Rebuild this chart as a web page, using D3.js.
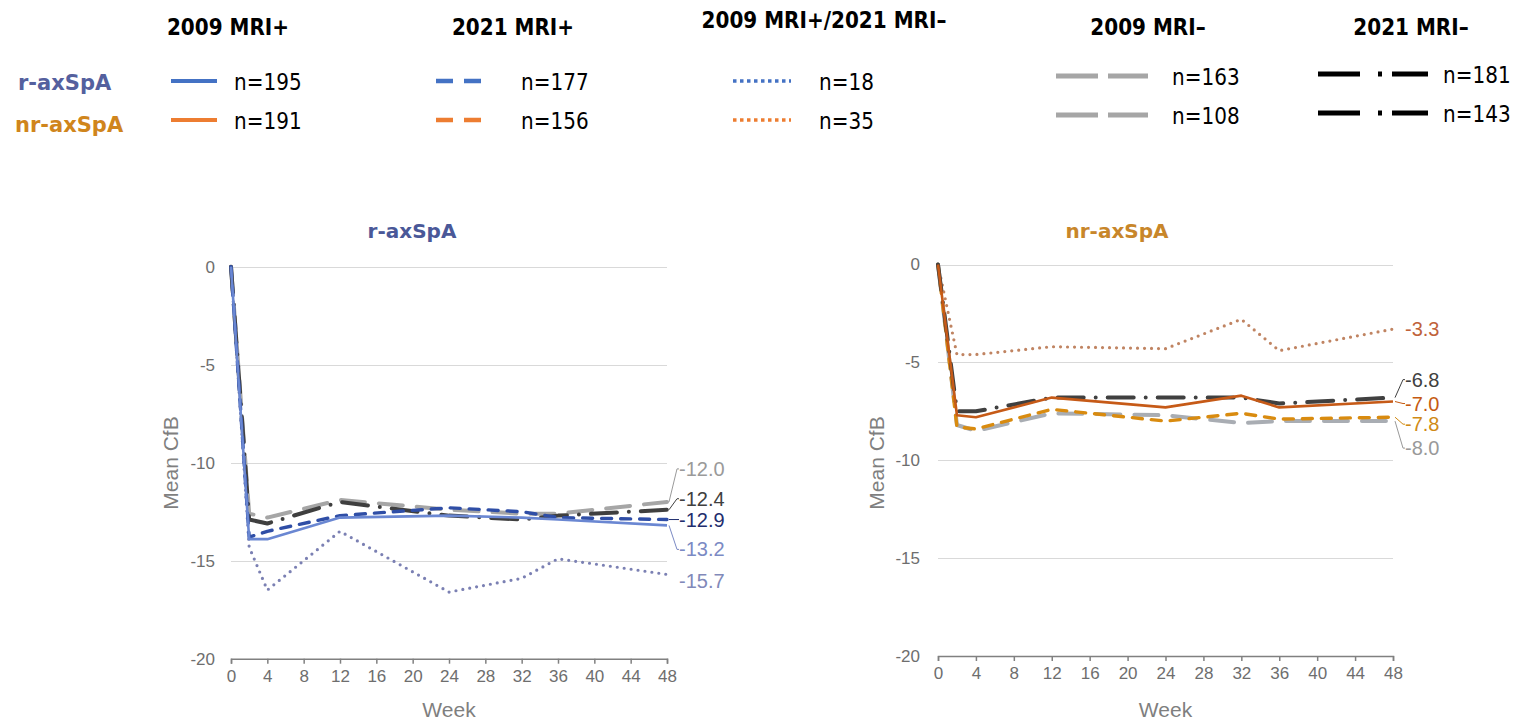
<!DOCTYPE html>
<html>
  <head>
    <meta charset="utf-8">
    <title>Mean CfB by week</title>
    <script src="https://cdn.jsdelivr.net/npm/d3@7"></script>
    <style>
      body {
        margin: 0px;
        overflow: hidden;
        background: white;
      }

      .header {
        font-family: "DejaVu Sans", sans-serif;
        font-weight: bold;
        font-size: 23px;
        text-anchor: middle;
      }

      .rowlabel {
        font-family: "DejaVu Sans", sans-serif;
        font-weight: bold;
        font-size: 21px;
      }

      .ncount {
        font-family: "DejaVu Sans", sans-serif;
        font-size: 23px;
        dominant-baseline: central;
      }

      .tick text {
        font-family: "Liberation Sans", Arial, sans-serif;
        font-size: 17px;
        fill: #6e6e6e;
      }

      .gridline {
        stroke: #d9d9d9;
        stroke-width: 1px;
        shape-rendering: crispEdges;
      }

      .axis-title {
        font-family: "Liberation Sans", Arial, sans-serif;
        font-size: 21px;
        fill: #7f7f7f;
        text-anchor: middle;
      }

      .end-label {
        font-family: "Liberation Sans", Arial, sans-serif;
        font-size: 20px;
        dominant-baseline: central;
      }

      .series {
        fill: none;
        stroke-linejoin: round;
      }
    </style>
  </head>
  <body>
    <svg id="container"></svg>

    <script type="text/javascript">
      // data
      var weeks = [0, 2, 4, 12, 24, 32, 36, 48];
      var xTicks = [0, 4, 8, 12, 16, 20, 24, 28, 32, 36, 40, 44, 48];
      var yTicks = [0, -5, -10, -15, -20];
      var groups = ['2009 MRI+', '2021 MRI+', '2009 MRI+/2021 MRI\u2013', '2009 MRI\u2013', '2021 MRI\u2013'];
      var rN = [195, 177, 18, 163, 181];
      var nrN = [191, 156, 35, 108, 143];

      // r-axSpA
      var r2009Pos = [0, -13.9, -13.9, -12.8, -12.7, -12.8, -12.9, -13.2];
      var r2021Pos = [0, -13.8, -13.5, -12.7, -12.3, -12.5, -12.8, -12.9];
      var rSwitch  = [0, -14.3, -16.5, -13.5, -16.6, -15.9, -14.9, -15.7];
      var r2009Neg = [0, -12.6, -12.8, -11.9, -12.4, -12.6, -12.6, -12.0];
      var r2021Neg = [0, -12.9, -13.1, -12.0, -12.7, -12.9, -12.7, -12.4];

      // nr-axSpA
      var nr2009Pos = [0, -7.7, -7.8, -6.8, -7.3, -6.7, -7.3, -7.0];
      var nr2021Pos = [0, -8.3, -8.4, -7.4, -8.0, -7.6, -7.9, -7.8];
      var nrSwitch  = [0, -4.6, -4.6, -4.2, -4.3, -2.8, -4.4, -3.3];
      var nr2009Neg = [0, -8.2, -8.5, -7.6, -7.7, -8.1, -8.0, -8.0];
      var nr2021Neg = [0, -7.5, -7.5, -6.8, -6.8, -6.8, -7.1, -6.8];

      var width = 1521,
        height = 720,
        container = d3.select('#container')
          .attr('width', width)
          .attr('height', height);

      // plain hyphen for negatives, like the original
      var fmtTick = function(d) { return String(d); },
        fmtEnd = function(v) { return v.toFixed(1); };

      // squeeze the legend text a bit, it is a narrow face in the original
      function narrow(sel, k) {
        sel.each(function() {
          var len = this.getComputedTextLength();
          d3.select(this)
            .attr('textLength', len * k)
            .attr('lengthAdjust', 'spacingAndGlyphs');
        });
      }

      // line style per group (column)
      var styles = [
        { dash: null, w: 2.6, cap: 'butt' },
        { dash: '10,9', w: 3.4, cap: 'round' },
        { dash: '0,7', w: 3.2, cap: 'round' },
        { dash: '24,14', w: 4, cap: 'round' },
        { dash: '26,12,0,12', w: 4, cap: 'round' }
      ];

      /*
        Legend
      */
      var headerX = [228, 513, 824, 1148, 1411],
        headerY = [35, 35, 28, 35, 35];

      container.selectAll('text.header')
        .data(groups)
        .enter().append('text')
        .attr('class', 'header')
        .attr('x', function(d, i) { return headerX[i]; })
        .attr('y', function(d, i) { return headerY[i]; })
        .text(function(d) { return d; })
        .call(narrow, 20 / 23);

      var legendRows = [
        { label: 'r-axSpA', color: '#54609e', n: rN, lineColors: ['#4472c4', '#4472c4', '#4472c4', '#a6a6a6', '#000'] },
        { label: 'nr-axSpA', color: '#d0851c', n: nrN, lineColors: ['#ed7d31', '#ed7d31', '#ed7d31', '#a6a6a6', '#000'] }
      ];
      var legendY = [[81, 120], [81, 120], [81, 120], [76, 115], [74, 113]];
      var legendLine = [
        { x1: 171, x2: 217, dash: null, w: 4, cap: 'butt', tx: 234 },
        { x1: 436, x2: 488, dash: '17,11', w: 4.5, cap: 'butt', tx: 521 },
        { x1: 733, x2: 791, dash: '3.5,3.5', w: 3.5, cap: 'butt', tx: 819 },
        { x1: 1056, x2: 1148, dash: '42,10', w: 5, cap: 'butt', tx: 1172 },
        { x1: 1318, x2: 1428, dash: '42,18,4,10', w: 5, cap: 'butt', tx: 1443 }
      ];

      legendRows.forEach(function(row, r) {
        container.append('text')
          .attr('class', 'rowlabel')
          .attr('x', r === 0 ? 18 : 15)
          .attr('y', r === 0 ? 90 : 132)
          .attr('fill', row.color)
          .text(row.label);

        legendLine.forEach(function(l, c) {
          var y = legendY[c][r];
          container.append('line')
            .attr('x1', l.x1).attr('x2', l.x2)
            .attr('y1', y).attr('y2', y)
            .attr('stroke', row.lineColors[c])
            .attr('stroke-width', l.w)
            .attr('stroke-dasharray', l.dash)
            .attr('stroke-linecap', l.cap);
          container.append('text')
            .attr('class', 'ncount')
            .attr('x', l.tx)
            .attr('y', y + 1)
            .text('n=' + row.n[c])
            .call(narrow, 20 / 23);
        });
      });

      /*
        Charts
      */
      function drawChart(opts) {
        var x = d3.scaleLinear().domain([0, 48]).range([opts.left, opts.right]),
          y = d3.scaleLinear().domain([-20, 0]).range([opts.bottom, opts.top]);

        var g = container.append('g');

        g.append('text')
          .attr('x', opts.titleX)
          .attr('y', 238)
          .attr('text-anchor', 'middle')
          .attr('font-family', '"DejaVu Sans", sans-serif')
          .attr('font-weight', 'bold')
          .attr('font-size', '20px')
          .attr('fill', opts.titleColor)
          .text(opts.title);

        g.selectAll('line.gridline')
          .data(yTicks.filter(function(d) { return d > -20; }))
          .enter().append('line')
          .attr('class', 'gridline')
          .attr('x1', x(0)).attr('x2', x(48))
          .attr('y1', function(d) { return Math.round(y(d)) + 0.5; })
          .attr('y2', function(d) { return Math.round(y(d)) + 0.5; });

        var yAxis = g.append('g')
          .attr('transform', 'translate(' + x(0) + ',0)')
          .call(d3.axisLeft(y).tickValues(yTicks).tickFormat(fmtTick).tickSize(0).tickPadding(opts.yPad));
        yAxis.select('.domain').remove();

        var xAxis = g.append('g')
          .attr('transform', 'translate(0,' + y(-20) + ')')
          .call(d3.axisBottom(x).tickValues(xTicks).tickFormat(fmtTick).tickSize(5).tickPadding(6).tickSizeOuter(5));
        xAxis.selectAll('line, path').attr('stroke', '#808080').attr('stroke-width', 1.5);

        g.append('text')
          .attr('class', 'axis-title')
          .attr('x', (x(0) + x(48)) / 2)
          .attr('y', 717)
          .text('Week');

        g.append('text')
          .attr('class', 'axis-title')
          .attr('transform', 'translate(' + opts.yTitleX + ',' + 463 + ') rotate(-90)')
          .text('Mean CfB');

        var line = d3.line()
          .x(function(d, i) { return x(weeks[i]); })
          .y(function(d) { return y(d); });

        // draw in back-to-front order
        opts.order.forEach(function(i) {
          var s = styles[i];
          g.append('path')
            .datum(opts.series[i])
            .attr('class', 'series')
            .attr('d', line)
            .attr('stroke', opts.colors[i])
            .attr('stroke-width', s.w)
            .attr('stroke-dasharray', s.dash)
            .attr('stroke-linecap', s.cap);
        });

        // end labels with leader lines
        opts.series.forEach(function(vals, i) {
          var v = vals[vals.length - 1],
            px = x(48),
            py = y(v),
            ly = py + opts.labelDy[i];
          if (opts.leader[i]) {
            g.append('polyline')
              .attr('points', [[px + 2, py], [px + 10, ly], [px + 12, ly]].join(' '))
              .attr('fill', 'none')
              .attr('stroke', opts.labelColors[i])
              .attr('stroke-width', 1);
          }
          g.append('text')
            .attr('class', 'end-label')
            .attr('x', px + 12)
            .attr('y', ly)
            .attr('fill', opts.labelColors[i])
            .text(fmtEnd(v));
        });
      }

      drawChart({
        left: 231, right: 667, top: 266.7, bottom: 658.7,
        title: 'r-axSpA', titleX: 412, titleColor: '#4a5898',
        yPad: 16, yTitleX: 178,
        series: [r2009Pos, r2021Pos, rSwitch, r2009Neg, r2021Neg],
        colors: ['#6a87d2', '#2f4ea6', '#7b80b3', '#a6a6a6', '#3f3f3f'],
        labelColors: ['#7b8ac4', '#1f2e6e', '#8189b9', '#9a9a9a', '#404040'],
        labelDy: [24, 0, 7, -33, -11],
        leader: [true, true, false, true, true],
        order: [2, 3, 4, 1, 0]
      });

      drawChart({
        left: 938, right: 1393, top: 264.5, bottom: 656,
        title: 'nr-axSpA', titleX: 1117, titleColor: '#c8862a',
        yPad: 18, yTitleX: 884,
        series: [nr2009Pos, nr2021Pos, nrSwitch, nr2009Neg, nr2021Neg],
        colors: ['#c65a17', '#d98b0f', '#c08462', '#a9adb3', '#404040'],
        labelColors: ['#c55a11', '#d08a16', '#c0623a', '#999999', '#404040'],
        labelDy: [2, 7, 0, 27, -18],
        leader: [true, true, false, true, true],
        order: [2, 3, 1, 4, 0]
      });
    </script>
  </body>
</html>
